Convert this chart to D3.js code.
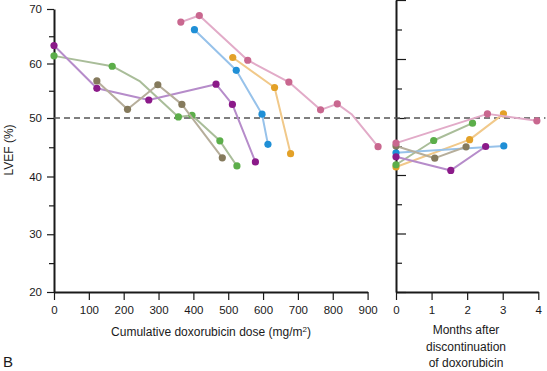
<!DOCTYPE html>
<meta charset="utf-8">
<style>
body { margin: 0; background: #fff; }
text { font-family: "Liberation Sans", Arial, sans-serif; fill: #1a1a1a; }
.axis text { font-size: 11.5px; }
.axis .domain { stroke: #1a1a1a; stroke-width: 2px; }
.axis line { stroke: #1a1a1a; stroke-width: 1.2px; }
.title { font-size: 12px; }
</style>
<svg width="547" height="371"></svg>
<script src="https://d3js.org/d3.v7.min.js"></script>
<script>

////////// Data //////////////

// dose (mg/m2) and LVEF (%) during treatment, months after stop and LVEF after
var seriesNames = ["orange", "green", "blue", "purple", "brown", "pink"];

var orangeDose = [513, 633, 679];
var orangeLvef = [61.1, 55.6, 43.9];
var orangeMonths = [0, 2.07, 3.02];
var orangeAfter = [41.4, 46.2, 50.7];

var greenDose = [0, 167, 247, 357, 396, 476, 525];
var greenLvef = [61.4, 59.5, 56.7, 50.2, 50.5, 46.1, 41.8];
var greenShown = [1, 1, 0, 1, 1, 1, 1];   // bend in the line without a dot
var greenMonths = [0, 1.06, 2.15];
var greenAfter = [41.8, 46.05, 49.1];

var blueDose = [403, 523, 597, 614];
var blueLvef = [66.2, 58.75, 50.7, 45.5];
var blueMonths = [0, 3.03];
var blueAfter = [43.9, 45.1];

var purpleDose = [0, 123, 272, 465, 512, 578];
var purpleLvef = [63.3, 55.45, 53.3, 56.2, 52.5, 42.5];
var purpleMonths = [0, 1.54, 2.52];
var purpleAfter = [43.2, 40.8, 45.0];

var brownDose = [123, 211, 298, 367, 483];
var brownLvef = [56.8, 51.6, 56.1, 52.5, 43.2];
var brownMonths = [0, 1.09, 1.97];
var brownAfter = [45.1, 42.95, 44.95];

var pinkDose = [364, 417, 556, 674, 765, 813, 854, 930];
var pinkLvef = [67.6, 68.8, 60.6, 56.6, 51.5, 52.6, 50.7, 45.1];
var pinkShown = [1, 1, 1, 1, 1, 1, 0, 1];
var pinkMonths = [0, 2.57, 3.96];
var pinkAfter = [45.6, 50.7, 49.5];

var doseTicks = [0, 100, 200, 300, 400, 500, 600, 700, 800, 900];
var lvefTicks = [20, 30, 40, 50, 60, 70];
var lvefMinor = [25, 35, 45, 55, 65];
var monthTicks = [0, 1, 2, 3, 4];
var cutoff = 50;

var dotColor = {
  orange: "#e3a128", green: "#5cae4a", blue: "#1f8fd6",
  purple: "#8b1a89", brown: "#857a5c", pink: "#c9678f"
};
var lineColor = {
  orange: "#f1c98a", green: "#a9bd99", blue: "#97c2ea",
  purple: "#b68cca", brown: "#b6ae9b", pink: "#e2abc8"
};

var data = {
  orange: { dose: orangeDose, lvef: orangeLvef, months: orangeMonths, after: orangeAfter },
  green: { dose: greenDose, lvef: greenLvef, shown: greenShown, months: greenMonths, after: greenAfter },
  blue: { dose: blueDose, lvef: blueLvef, months: blueMonths, after: blueAfter },
  purple: { dose: purpleDose, lvef: purpleLvef, months: purpleMonths, after: purpleAfter },
  brown: { dose: brownDose, lvef: brownLvef, months: brownMonths, after: brownAfter },
  pink: { dose: pinkDose, lvef: pinkLvef, shown: pinkShown, months: pinkMonths, after: pinkAfter }
};

////////// Scales //////////////

var svg = d3.select("svg");

var xL = d3.scaleLinear().domain([0, 900]).range([54, 367.6]);
var yL = d3.scaleLinear().domain([20, 40, 50, 70]).range([292, 176.5, 118, 9]);
var xR = d3.scaleLinear().domain([0, 4]).range([396, 538.3]);
var yR = d3.scaleLinear().domain([20, 40, 50, 70]).range([292, 175, 118, 0]);

////////// Axes //////////////

// left y axis: labelled majors, short minors
svg.append("g").attr("class", "axis")
    .attr("transform", "translate(54,0)")
    .call(d3.axisLeft(yL).tickValues(lvefMinor).tickSize(5).tickFormat(""))
    .select(".domain").remove();
svg.append("g").attr("class", "axis")
    .attr("transform", "translate(54,0)")
    .call(d3.axisLeft(yL).tickValues(lvefTicks).tickSize(7).tickSizeOuter(0).tickPadding(5));

// right y axis, ticks inward, no labels
svg.append("g").attr("class", "axis")
    .attr("transform", "translate(396,0)")
    .call(d3.axisRight(yR).tickValues(lvefMinor).tickSize(6).tickFormat(""))
    .select(".domain").remove();
svg.append("g").attr("class", "axis")
    .attr("transform", "translate(396,0)")
    .call(d3.axisRight(yR).tickValues(lvefTicks).tickSize(10).tickSizeOuter(0).tickFormat(""));

// x axes
svg.append("g").attr("class", "axis")
    .attr("transform", "translate(0,292)")
    .call(d3.axisBottom(xL).tickValues(doseTicks).tickSize(8).tickSizeOuter(0).tickPadding(6));
svg.append("g").attr("class", "axis")
    .attr("transform", "translate(0,292)")
    .call(d3.axisBottom(xR).tickValues(monthTicks).tickFormat(d3.format("d"))
      .tickSize(8).tickSizeOuter(0).tickPadding(6));

// 50% line
svg.append("line")
    .attr("x1", xL(0)).attr("x2", xR(4.2))
    .attr("y1", yL(cutoff)).attr("y2", yR(cutoff))
    .attr("stroke", "#555").attr("stroke-width", 1.6)
    .attr("stroke-dasharray", "6,4");

////////// Lines + Dots //////////////

var lineL = d3.line().x(function(d) { return xL(d.x); }).y(function(d) { return yL(d.y); });
var lineR = d3.line().x(function(d) { return xR(d.x); }).y(function(d) { return yR(d.y); });

seriesNames.forEach(function(name) {
  var s = data[name];
  var left = s.dose.map(function(v, i) {
    return { x: v, y: s.lvef[i], shown: s.shown ? s.shown[i] : 1 };
  });
  var right = s.months.map(function(v, i) { return { x: v, y: s.after[i] }; });

  svg.append("path").datum(left)
      .attr("d", lineL)
      .attr("fill", "none").attr("stroke", lineColor[name])
      .attr("stroke-width", 2).attr("stroke-linejoin", "round");
  svg.append("path").datum(right)
      .attr("d", lineR)
      .attr("fill", "none").attr("stroke", lineColor[name])
      .attr("stroke-width", 2).attr("stroke-linejoin", "round");

  svg.selectAll(null).data(left.filter(function(d) { return d.shown; }))
    .enter().append("circle")
      .attr("cx", function(d) { return xL(d.x); })
      .attr("cy", function(d) { return yL(d.y); })
      .attr("r", 3.6)
      .attr("fill", dotColor[name]);
  svg.selectAll(null).data(right)
    .enter().append("circle")
      .attr("cx", function(d) { return xR(d.x); })
      .attr("cy", function(d) { return yR(d.y); })
      .attr("r", 3.6)
      .attr("fill", dotColor[name]);
});

////////// Titles //////////////

svg.append("text").attr("class", "title")
    .attr("transform", "translate(13,150) rotate(-90)")
    .attr("text-anchor", "middle")
    .text("LVEF (%)");

var xt = svg.append("text").attr("class", "title")
    .attr("x", 211).attr("y", 336)
    .attr("text-anchor", "middle")
    .text("Cumulative doxorubicin dose (mg/m");
xt.append("tspan").attr("font-size", "8px").attr("dy", -4).text("2");
xt.append("tspan").attr("dy", 4).text(")");

["Months after", "discontinuation", "of doxorubicin"].forEach(function(t, i) {
  svg.append("text").attr("class", "title")
      .attr("x", 466).attr("y", 334 + i * 16.7)
      .attr("text-anchor", "middle")
      .text(t);
});

svg.append("text")
    .attr("x", 3).attr("y", 367)
    .attr("font-size", "15px")
    .text("B");

</script>
